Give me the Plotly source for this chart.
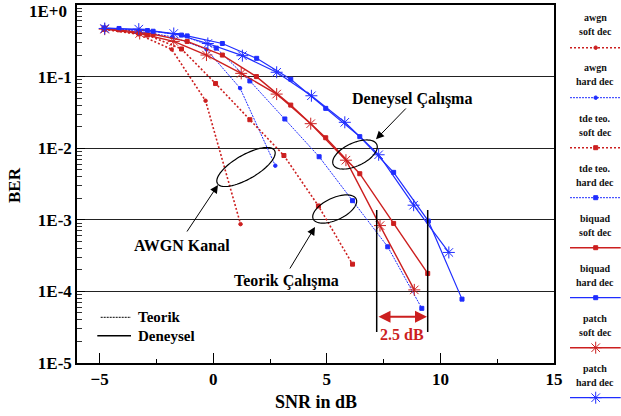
import math
import plotly.graph_objects as go

W, H = 621, 416
L = 77

def xp(p):
    return (p - L) / (W - L)

def yp(p):
    return (H - p) / H

RED = '#cc1f1f'
BLUE = '#1f2dff'
FONT = 'Liberation Serif, Times New Roman, serif'

# ---------------- data (SNR in dB, BER) ----------------
awgn_soft_snr = [-4.8, -3.3, -1.83, -0.34, 1.2]
awgn_soft_ber = [0.46, 0.39, 0.24, 0.046, 8.7e-4]

awgn_hard_snr = [-4.8, -3.3, -1.8, -0.3, 1.18, 2.73]
awgn_hard_ber = [0.47, 0.43, 0.36, 0.24, 0.069, 5.7e-3]

tde_soft_snr = [-4.8, -2.9, -1.4, 0.1, 1.61, 3.11, 4.63, 6.13]
tde_soft_ber = [0.46, 0.38, 0.243, 0.08, 0.025, 7.9e-3, 1.56e-3, 2.4e-4]

tde_hard_snr = [-4.8, -2.9, -1.4, 0.13, 1.61, 3.15, 4.66, 6.13, 7.68, 9.18]
tde_hard_ber = [0.47, 0.44, 0.38, 0.25, 0.087, 0.0256, 7.6e-3, 1.85e-3, 4.2e-4, 5.8e-5]

biquad_soft_snr = [-4.8, -4.15, -2.65, -1.15, 0.4, 1.9, 3.41, 4.95, 6.45, 7.94, 9.44]
biquad_soft_ber = [0.46, 0.45, 0.39, 0.31, 0.2, 0.1, 0.04, 0.014, 4.4e-3, 8.9e-4, 1.78e-4]

biquad_hard_snr = [-4.8, -4.15, -2.65, -1.15, 0.4, 1.91, 3.41, 4.95, 6.45, 7.94, 9.47, 10.95]
biquad_hard_ber = [0.48, 0.47, 0.43, 0.37, 0.29, 0.18, 0.092, 0.036, 0.0145, 4.6e-3, 9.6e-4, 7.8e-5]

patch_soft_snr = [-4.78, -3.24, -1.74, -0.3, 1.23, 2.79, 4.29, 5.84, 7.34, 8.85]
patch_soft_ber = [0.46, 0.40, 0.31, 0.2, 0.111, 0.057, 0.022, 6.8e-3, 8.3e-4, 1.05e-4]

patch_hard_snr = [-4.78, -3.28, -1.74, -0.24, 1.28, 2.79, 4.32, 5.79, 7.28, 8.82, 10.37]
patch_hard_ber = [0.47, 0.46, 0.40, 0.29, 0.196, 0.115, 0.054, 0.023, 8.1e-3, 1.6e-3, 3.5e-4]

y_tick_vals = [1, 0.1, 0.01, 1e-3, 1e-4, 1e-5]
y_tick_text = ['1E+0', '1E-1', '1E-2', '1E-3', '1E-4', '1E-5']
x_tick_vals = [-5, 0, 5, 10, 15]

legend_names = [('awgn', 'soft dec'), ('awgn', 'hard dec'),
                ('tde teo.', 'soft dec'), ('tde teo.', 'hard dec'),
                ('biquad', 'soft dec'), ('biquad', 'hard dec'),
                ('patch', 'soft dec'), ('patch', 'hard dec')]

# ---------------- styles ----------------
RED_DOT = '2px,2px'
BLUE_DOT = '2px,1px'
series = [
    (awgn_soft_snr, awgn_soft_ber, RED, RED_DOT, 1.6, 'circle', 3.5),
    (awgn_hard_snr, awgn_hard_ber, BLUE, BLUE_DOT, 1.0, 'circle', 3.5),
    (tde_soft_snr, tde_soft_ber, RED, RED_DOT, 1.6, 'square', 4),
    (tde_hard_snr, tde_hard_ber, BLUE, BLUE_DOT, 1.0, 'square', 4),
    (biquad_soft_snr, biquad_soft_ber, RED, 'solid', 1.4, 'square', 4),
    (biquad_hard_snr, biquad_hard_ber, BLUE, 'solid', 1.2, 'square', 4),
    (patch_soft_snr, patch_soft_ber, RED, 'solid', 1.4, 'asterisk-open', 10),
    (patch_hard_snr, patch_hard_ber, BLUE, 'solid', 1.2, 'asterisk-open', 10),
]

fig = go.Figure()
for sx, sy, col, dash, lw, sym, ms in series:
    fig.add_trace(go.Scatter(
        x=sx, y=sy, mode='lines+markers', showlegend=False,
        line=dict(color=col, width=lw, dash=dash),
        marker=dict(symbol=sym, size=ms, color=col, line=dict(color=col, width=1)),
        xaxis='x', yaxis='y'))

# custom legend on the right (separate hidden axes in pixel units)
annotations = []
for k, ((n1, n2), (sx, sy, col, dash, lw, sym, ms)) in enumerate(zip(legend_names, series)):
    yl = 47.7 + 50 * k
    fig.add_trace(go.Scatter(x=[570, 620.7], y=[yl, yl], mode='lines', showlegend=False,
                             line=dict(color=col, width=lw, dash=dash),
                             xaxis='x2', yaxis='y2', hoverinfo='skip'))
    fig.add_trace(go.Scatter(x=[595.7], y=[yl], mode='markers', showlegend=False,
                             marker=dict(symbol=sym, size=ms, color=col, line=dict(color=col, width=1)),
                             xaxis='x2', yaxis='y2', hoverinfo='skip'))
    for txt, ty in ((n1, 18 + 50 * k), (n2, 32 + 50 * k)):
        annotations.append(dict(text='<b>%s</b>' % txt, x=xp(595), y=yp(ty), xref='paper', yref='paper',
                                showarrow=False, xanchor='center', yanchor='middle',
                                font=dict(family=FONT, size=10, color='#111')))

def ellipse_path(cx, cy, a, b, ang_deg, n=72):
    th = math.radians(ang_deg)
    pts = []
    for i in range(n + 1):
        t = 2 * math.pi * i / n
        x = cx + a * math.cos(t) * math.cos(th) - b * math.sin(t) * math.sin(th)
        y = cy - (a * math.cos(t) * math.sin(th) + b * math.sin(t) * math.cos(th))
        pts.append('%.5f,%.5f' % (xp(x), yp(y)))
    return 'M ' + ' L '.join(pts) + ' Z'

shapes = []
for cx, cy, a, b, ang in [(246, 167, 33, 12, 30), (355, 154.5, 24, 11.5, 25), (334.7, 209, 23.7, 11, 25)]:
    shapes.append(dict(type='path', path=ellipse_path(cx, cy, a, b, ang), xref='paper', yref='paper',
                       line=dict(color='black', width=1.2)))

# 2.5 dB markers
for vx in (376.7, 427.7):
    shapes.append(dict(type='line', xref='paper', yref='paper', x0=xp(vx), x1=xp(vx), y0=yp(210), y1=yp(332),
                       line=dict(color='black', width=1.5)))
# inner legend lines
shapes.append(dict(type='line', xref='paper', yref='paper', x0=xp(100.7), x1=xp(131), y0=yp(317.3), y1=yp(317.3),
                   line=dict(color='black', width=1, dash='2px,1px')))
shapes.append(dict(type='line', xref='paper', yref='paper', x0=xp(97.3), x1=xp(131), y0=yp(335.7), y1=yp(335.7),
                   line=dict(color='black', width=1.5)))

def text_ann(txt, x, y, size=16, color='black', anchor='center', angle=0, yanchor='middle'):
    return dict(text='<b>%s</b>' % txt, x=xp(x), y=yp(y), xref='paper', yref='paper', showarrow=False,
                xanchor=anchor, yanchor=yanchor, textangle=angle, font=dict(family=FONT, size=size, color=color))

annotations += [
    text_ann('Deneysel Çalışma', 411.7, 99),
    text_ann('AWGN Kanal', 181.7, 245),
    text_ann('Teorik Çalışma', 286.5, 281),
    text_ann('2.5 dB', 402.3, 334, color=RED),
    text_ann('Teorik', 136, 317.3, size=15, anchor='left'),
    text_ann('Deneysel', 136, 335.7, size=15, anchor='left'),
    text_ann('SNR in dB', 316, 402, size=18),
    text_ann('BER', 14, 185, size=17, angle=-90),
    # top tick label placed as text so it is not cut by the page edge
    text_ann(y_tick_text[0], 69, 0, size=17, anchor='right', yanchor='top'),
]

def arrow(tip, tail, color='black', width=1, both=False, size=1.6):
    d = dict(text='', x=xp(tip[0]), y=yp(tip[1]), xref='paper', yref='paper', showarrow=True,
             ax=tail[0] - tip[0], ay=tail[1] - tip[1], axref='pixel', ayref='pixel',
             arrowhead=2, arrowsize=size, arrowwidth=width, arrowcolor=color)
    if both:
        d['arrowside'] = 'end+start'
    return d

annotations += [
    arrow((376, 139.3), (407.3, 107)),
    arrow((218, 185), (186, 233)),
    arrow((315, 227), (289, 270)),
    arrow((427, 316.7), (377, 316.7), color=RED, width=2, both=True, size=1.2),
]

minor_y = [m * 10 ** e for e in range(-5, 0) for m in range(2, 10)]

fig.update_layout(
    width=W, height=H,
    margin=dict(l=L, r=0, t=0, b=0, autoexpand=False),
    paper_bgcolor='white', plot_bgcolor='white',
    showlegend=False,
    xaxis=dict(domain=[0, (554 - L) / (W - L)], range=[-6, 15], tickvals=x_tick_vals, automargin=False,
               ticks='inside', ticklen=10, tickwidth=1, tickcolor='black', ticklabeloverflow='allow',
               showgrid=False, zeroline=False, showline=True, linecolor='black', linewidth=1.5, mirror=True,
               tickfont=dict(family=FONT, size=17, color='black', weight='bold'),
               minor=dict(tickvals=[-2.5, 2.5, 7.5, 12.5], ticks='inside', ticklen=4, tickcolor='black', showgrid=False),
               anchor='y'),
    yaxis=dict(domain=[(H - 363) / H, (H - 5) / H], type='log', range=[-5, 0], automargin=False,
               tickvals=y_tick_vals, ticktext=[''] + ['<b>%s</b>' % t for t in y_tick_text[1:]],
               ticks='inside', ticklen=8, tickcolor='black', ticklabeloverflow='allow',
               showgrid=True, gridcolor='#222', gridwidth=1, zeroline=False,
               showline=True, linecolor='black', linewidth=1.5, mirror=True,
               tickfont=dict(family=FONT, size=17, color='black'),
               minor=dict(tickvals=minor_y, ticks='inside', ticklen=5, tickcolor='#333', showgrid=False),
               anchor='x'),
    xaxis2=dict(domain=[xp(557), 1], range=[557, 621], visible=False, anchor='y2', fixedrange=True, automargin=False),
    yaxis2=dict(domain=[0, 1], range=[416, 0], visible=False, anchor='x2', fixedrange=True, automargin=False),
    shapes=shapes,
    annotations=annotations,
)

fig.write_html('out.html', config={'displayModeBar': False},
               post_script="document.body.style.margin='0';document.body.style.overflow='hidden';")
